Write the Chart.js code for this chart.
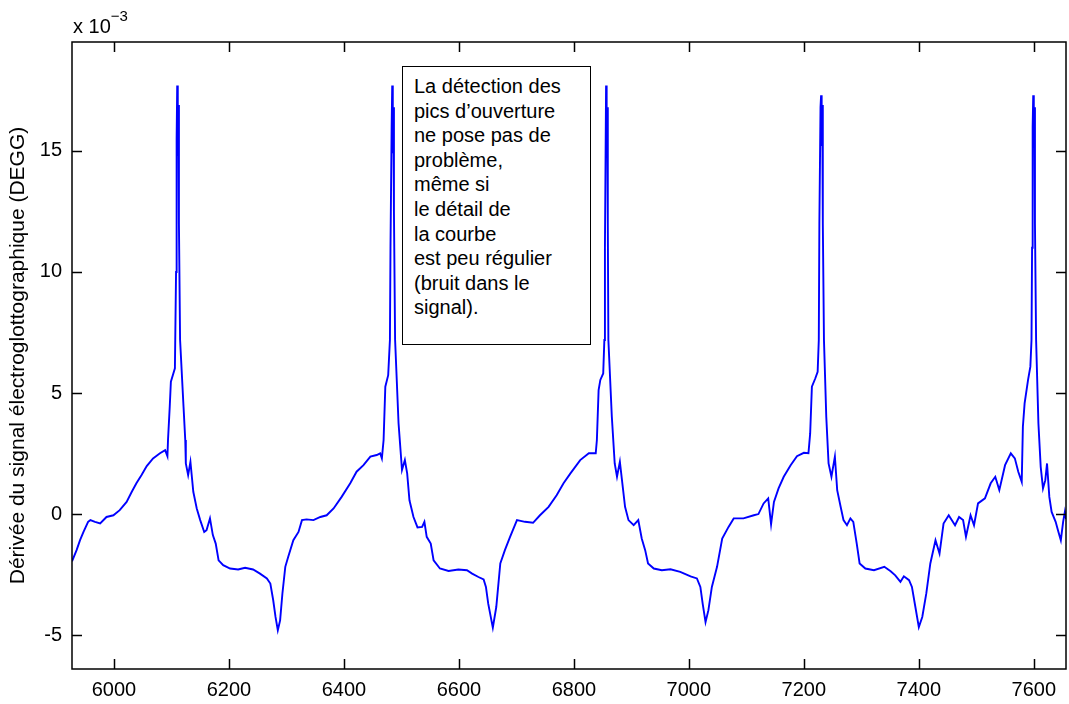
<!DOCTYPE html>
<html>
<head>
<meta charset="utf-8">
<title>DEGG</title>
<script src="https://cdn.jsdelivr.net/npm/chart.js@4.4.1/dist/chart.umd.min.js"></script>
<style>
  html, body { margin: 0; padding: 0; background: #fff; }
  #wrap { position: relative; width: 1069px; height: 704px; }
  #note {
    position: absolute; left: 402px; top: 66px; width: 189px; height: 279px;
    box-sizing: border-box; border: 1.5px solid #000; background: #fff;
    font: 20px "Liberation Sans", Arial, sans-serif; line-height: 24.6px;
    padding: 7px 0 0 11px; color: #000;
  }
</style>
</head>
<body>
<div id="wrap">
  <canvas id="degg" width="1069" height="704"></canvas>
  <div id="note">La détection des<br>pics d’ouverture<br>ne pose pas de<br>problème,<br>même si<br>le détail de<br>la courbe<br>est peu régulier<br>(bruit dans le<br>signal).</div>
</div>
<script>
// sample index (x) and DEGG value in units of 10^-3 (y)
const xSamples = [
  5927, 5935, 5941, 5947, 5955, 5959, 5967, 5976, 5987, 5999,
  6010, 6022, 6031, 6039, 6048, 6057, 6068, 6080, 6089, 6093,
  6094, 6097, 6099, 6106, 6108, 6109, 6110, 6111, 6112, 6113,
  6115, 6121, 6124, 6125, 6129, 6133, 6138, 6144, 6150, 6157,
  6161, 6167, 6172, 6177, 6182, 6190, 6202, 6216, 6228, 6242,
  6254, 6266, 6272, 6277, 6281, 6285, 6289, 6293, 6298, 6303,
  6312, 6321, 6327, 6335, 6347, 6359, 6370, 6382, 6396, 6411,
  6422, 6434, 6446, 6457, 6463, 6466, 6469, 6472, 6477, 6480,
  6481, 6483, 6484, 6485, 6486, 6487, 6489, 6495, 6501, 6506,
  6510, 6514, 6521, 6528, 6536, 6540, 6544, 6551, 6556, 6567,
  6582, 6599, 6614, 6623, 6634, 6643, 6647, 6651, 6659, 6665,
  6672, 6680, 6689, 6701, 6715, 6729, 6741, 6756, 6770, 6782,
  6794, 6811, 6826, 6838, 6840, 6843, 6846, 6851, 6853, 6854,
  6856, 6857, 6858, 6859, 6860, 6866, 6871, 6875, 6880, 6885,
  6889, 6895, 6904, 6912, 6918, 6924, 6929, 6939, 6953, 6968,
  6985, 7003, 7014, 7020, 7024, 7029, 7034, 7040, 7049, 7058,
  7069, 7078, 7095, 7113, 7121, 7130, 7138, 7143, 7148, 7156,
  7165, 7177, 7188, 7200, 7208, 7211, 7214, 7220, 7224, 7226,
  7227, 7229, 7230, 7231, 7232, 7233, 7235, 7239, 7243, 7248,
  7254, 7258, 7264, 7269, 7275, 7281, 7286, 7292, 7297, 7307,
  7322, 7340, 7351, 7359, 7368, 7374, 7383, 7388, 7394, 7400,
  7406, 7413, 7420, 7429, 7436, 7443, 7452, 7463, 7470, 7477,
  7482, 7490, 7496, 7503, 7515, 7525, 7533, 7540, 7550, 7560,
  7567, 7573, 7579, 7581, 7584, 7590, 7594, 7596, 7597, 7598,
  7599, 7600, 7601, 7602, 7604, 7608, 7612, 7616, 7620, 7623,
  7627, 7631, 7638, 7642, 7647, 7651, 7654, 7656
];
const deggValues = [
  -1.95, -1.49, -1.08, -0.74, -0.32, -0.25, -0.32, -0.39, -0.12, -0.05,
  0.16, 0.50, 0.92, 1.27, 1.61, 1.98, 2.30, 2.51, 2.64, 2.39,
  3.06, 4.43, 5.47, 6.02, 10.0, 15.5, 17.7, 14.8, 16.9, 12.0,
  7.2, 4.43, 3.06, 2.09, 1.61, 2.16, 0.92, 0.23, -0.25, -0.74,
  -0.67, -0.18, -0.87, -1.22, -1.91, -2.11, -2.25, -2.29, -2.22, -2.29,
  -2.46, -2.66, -2.87, -3.56, -4.25, -4.80, -4.39, -3.28, -2.18, -1.77,
  -1.08, -0.74, -0.25, -0.22, -0.25, -0.12, -0.05, 0.23, 0.71, 1.27,
  1.75, 2.02, 2.37, 2.44, 2.51, 2.30, 3.06, 5.26, 5.74, 7.19,
  11.0, 16.0, 17.7, 14.9, 16.8, 12.5, 7.2, 3.75, 1.82, 2.23,
  1.68, 0.57, -0.12, -0.55, -0.53, -0.32, -0.94, -1.22, -1.91, -2.25,
  -2.35, -2.29, -2.32, -2.46, -2.60, -2.70, -3.01, -3.70, -4.69, -3.84,
  -2.04, -1.49, -0.94, -0.25, -0.32, -0.36, -0.05, 0.30, 0.78, 1.27,
  1.68, 2.23, 2.51, 2.51, 3.06, 5.12, 5.54, 5.81, 7.19, 11.0,
  17.7, 14.9, 16.8, 12.0, 7.19, 4.02, 2.09, 1.54, 2.16, 1.12,
  0.30, -0.25, -0.46, -0.25, -1.01, -1.49, -2.04, -2.25, -2.32, -2.28,
  -2.39, -2.57, -2.66, -3.01, -3.70, -4.46, -3.97, -3.01, -2.18, -1.01,
  -0.53, -0.18, -0.18, -0.05, 0.00, 0.44, 0.65, -0.42, 0.50, 1.06,
  1.54, 2.02, 2.39, 2.53, 2.51, 3.33, 5.26, 5.61, 5.88, 7.19,
  12.0, 16.8, 17.3, 15.2, 16.9, 12.0, 7.19, 4.02, 2.09, 1.54,
  2.37, 0.99, 0.30, -0.25, -0.46, -0.18, -0.32, -1.22, -2.04, -2.25,
  -2.32, -2.18, -2.36, -2.53, -2.80, -2.57, -2.73, -3.01, -3.84, -4.67,
  -4.25, -3.28, -2.04, -1.08, -1.63, -0.39, -0.05, -0.46, -0.12, -0.25,
  -0.94, -0.05, -0.46, 0.44, 0.65, 1.27, 1.54, 0.99, 2.02, 2.51,
  2.30, 1.75, 1.33, 3.61, 4.57, 5.54, 6.09, 7.19, 11.0, 16.0,
  17.3, 15.2, 16.8, 12.0, 7.19, 3.75, 1.95, 1.06, 1.40, 2.09,
  0.71, 0.09, -0.32, -0.67, -1.08, -0.32, 0.09, -0.20
];

const xTicks = [6000, 6200, 6400, 6600, 6800, 7000, 7200, 7400, 7600];
const yTicks = [-5, 0, 5, 10, 15];
const xMin = 5927, xMax = 7656;
const yMin = -6.4, yMax = 19.5;

const yTitle = 'Dérivée du signal électroglottographique (DEGG)';

Chart.defaults.font.family = '"Liberation Sans", Arial, sans-serif';
Chart.defaults.font.size = 20;
Chart.defaults.color = '#000';

// matlab style box: frame, inward ticks on all 4 sides, "x 10^-3"
const matlabBox = {
  id: 'matlabBox',
  afterDraw(chart) {
    const { ctx, chartArea: a, scales } = chart;
    ctx.save();
    ctx.strokeStyle = '#000';
    ctx.lineWidth = 1.5;
    ctx.strokeRect(a.left, a.top, a.right - a.left, a.bottom - a.top);
    ctx.beginPath();
    xTicks.forEach(v => {
      const px = Math.round(scales.x.getPixelForValue(v)) + 0.5;
      ctx.moveTo(px, a.bottom); ctx.lineTo(px, a.bottom - 10);
      ctx.moveTo(px, a.top); ctx.lineTo(px, a.top + 10);
    });
    yTicks.forEach(v => {
      const py = Math.round(scales.y.getPixelForValue(v)) + 0.5;
      ctx.moveTo(a.left, py); ctx.lineTo(a.left + 10, py);
      ctx.moveTo(a.right, py); ctx.lineTo(a.right - 10, py);
    });
    ctx.stroke();

    ctx.fillStyle = '#000';
    ctx.textBaseline = 'alphabetic';
    ctx.font = '20px "Liberation Sans", Arial, sans-serif';
    ctx.fillText('x 10', a.left + 1, 33);
    const w = ctx.measureText('x 10').width;
    ctx.font = '15px "Liberation Sans", Arial, sans-serif';
    ctx.fillText('\u22123', a.left + 1 + w, 21);
    ctx.restore();
  }
};

const points = xSamples.map((x, i) => ({ x: x, y: deggValues[i] }));

new Chart(document.getElementById('degg'), {
  type: 'line',
  data: {
    datasets: [{
      data: points,
      borderColor: '#0000ff',
      borderWidth: 1.9,
      pointRadius: 0,
      tension: 0,
      fill: false
    }]
  },
  options: {
    responsive: false,
    animation: false,
    devicePixelRatio: 1,
    layout: { padding: { top: 42, right: 3, left: 0, bottom: 0 } },
    plugins: { legend: { display: false }, tooltip: { enabled: false } },
    scales: {
      x: {
        type: 'linear',
        min: xMin,
        max: xMax,
        grid: { display: false, drawTicks: false },
        border: { display: false },
        ticks: { padding: 9, maxRotation: 0, callback: v => String(v) },
        afterBuildTicks: s => { s.ticks = xTicks.map(v => ({ value: v })); },
        afterFit: s => { s.height = 35; }
      },
      y: {
        type: 'linear',
        min: yMin,
        max: yMax,
        grid: { display: false, drawTicks: false },
        border: { display: false },
        ticks: { padding: 10, callback: v => String(v) },
        afterBuildTicks: s => { s.ticks = yTicks.map(v => ({ value: v })); },
        afterFit: s => { s.width = 72; },
        title: {
          display: true,
          text: yTitle,
          font: { size: 21 },
          padding: { top: 6, bottom: 0 }
        }
      }
    }
  },
  plugins: [matlabBox]
});
</script>
</body>
</html>
